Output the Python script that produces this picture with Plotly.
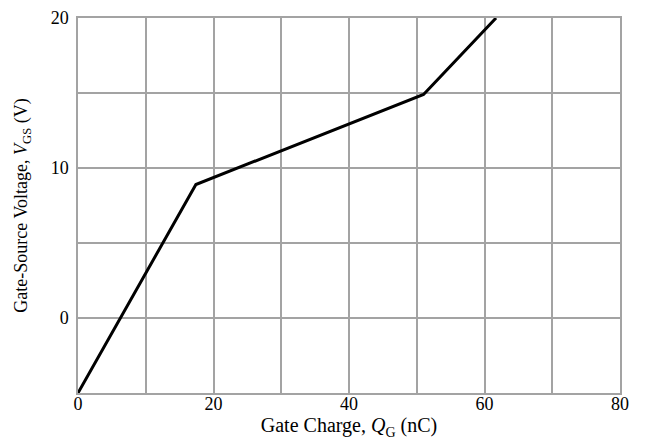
import plotly.graph_objects as go

charge_nC = [0, 17.4, 51, 61.7]
vgs_V = [-5, 8.9, 14.9, 20]

x_ticks = [0, 10, 20, 30, 40, 50, 60, 70, 80]
x_labels = ["0", "", "20", "", "40", "", "60", "", "80"]
y_ticks = [-5, 0, 5, 10, 15, 20]
y_labels = ["", "0", "", "10", "", "20"]

grid = "#a3a3a3"
font = "Liberation Serif, Times New Roman, serif"

fig = go.Figure()
fig.add_trace(go.Scatter(x=charge_nC, y=vgs_V, mode="lines",
                         line=dict(color="black", width=3), showlegend=False))

# page body has an 8px margin, so the figure is offset by 8px
fig.update_layout(
    width=639, height=438,
    margin=dict(l=70, r=27, t=10, b=53),
    paper_bgcolor="white", plot_bgcolor="white",
    font=dict(family=font, color="black", size=18),
)
fig.update_xaxes(range=[0, 80], tickvals=x_ticks, ticktext=x_labels,
                 showgrid=True, gridcolor=grid, gridwidth=1.5,
                 showline=True, linecolor=grid, linewidth=1.5, mirror=True,
                 zeroline=False, ticks="", ticklen=0, automargin=False,
                 tickfont=dict(size=18), ticklabelstandoff=-6,
                 title=dict(text="Gate Charge, <i>Q</i><sub>G</sub> (nC)", font=dict(size=20), standoff=0))
fig.update_yaxes(range=[-5, 20], tickvals=y_ticks, ticktext=y_labels,
                 showgrid=True, gridcolor=grid, gridwidth=1.5,
                 showline=True, linecolor=grid, linewidth=1.5, mirror=True,
                 zeroline=False, ticks="", ticklen=0, automargin=False,
                 tickfont=dict(size=18), ticklabelstandoff=4,
                 title=dict(text="Gate-Source Voltage, <i>V</i><sub>GS</sub> (V)", font=dict(size=18), standoff=18))

fig.write_html("out.html")
